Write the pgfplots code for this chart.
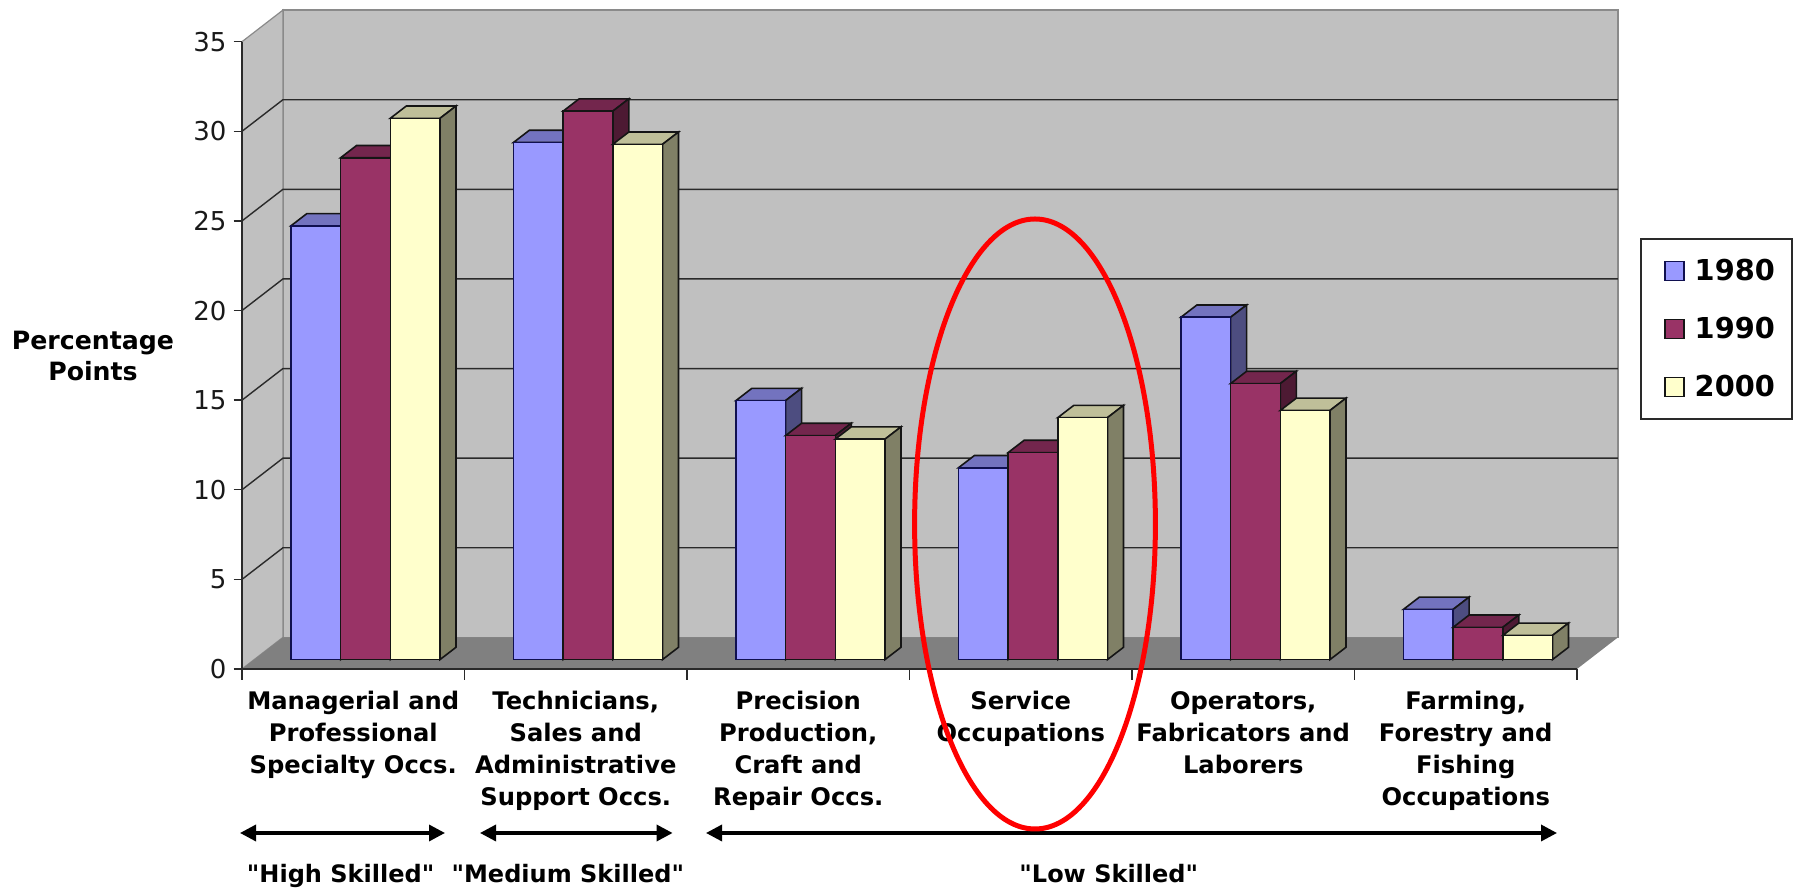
\documentclass[border=0pt]{standalone}
\usepackage{pgfplots}
\usepackage{pgfplotstable}
\pgfplotsset{compat=1.18}
\usepackage{fontspec}
\setmainfont[Ligatures=TeXOff]{DejaVu Sans}
\usetikzlibrary{arrows.meta}

\definecolor{wallgrey}{HTML}{C0C0C0}
\definecolor{floorgrey}{HTML}{808080}
\definecolor{edgegrey}{HTML}{8A8A8A}
\definecolor{gridline}{HTML}{2A2A2A}
\definecolor{blueF}{HTML}{9999FF}
\definecolor{blueT}{HTML}{7373BF}
\definecolor{blueS}{HTML}{4D4D80}
\definecolor{blueE}{HTML}{101050}
\definecolor{redF}{HTML}{993366}
\definecolor{redT}{HTML}{73264D}
\definecolor{redS}{HTML}{4D1A33}
\definecolor{yelF}{HTML}{FFFFCC}
\definecolor{yelT}{HTML}{BFBF99}
\definecolor{yelS}{HTML}{808066}
\definecolor{barE}{HTML}{151515}

% Share of employment by occupation group, percentage points
\pgfplotstableread{
x   y1980 y1990 y2000
0.5 24.2  28.0  30.2
1.5 28.85 30.6  28.75
2.5 14.45 12.5  12.3
3.5 10.7  11.55 13.5
4.5 19.1  15.4  13.9
5.5 2.8   1.8   1.35
}\occupations

\pgfplotsset{swatch/.style={legend image code/.code={
  \path[draw=none,fill=none] (-5.4pt,0pt) -- (12.9pt,0pt);
  \draw[#1,line width=0.7pt] (0pt,-4.75pt) rectangle (9.5pt,4.75pt);}}}

% Top and side faces of one series of 3-D columns
\newcommand{\barfaces}[4]{%
  \pgfplotsinvokeforeach{0,...,5}{%
    \pgfplotstablegetelem{##1}{#1}\of{\occupations}%
    \pgfmathsetmacro\v{\pgfplotsretval}%
    \pgfmathsetmacro\vt{\v+0.686}%
    \pgfmathsetmacro\xa{##1+0.5+(#2-1.5)*0.22337}%
    \pgfmathsetmacro\xb{\xa+0.22337}%
    \pgfmathsetmacro\xc{\xa+0.0719}%
    \pgfmathsetmacro\xd{\xb+0.0719}%
    \addplot[forget plot,fill=#3,draw=barE,line width=0.8pt] coordinates
      {(\xa,\v) (\xb,\v) (\xd,\vt) (\xc,\vt)} -- cycle;
    \addplot[forget plot,fill=#4,draw=barE,line width=0.8pt] coordinates
      {(\xb,0) (\xd,0.686) (\xd,\vt) (\xb,\v)} -- cycle;
  }%
}

\begin{document}
\begin{tikzpicture}
\useasboundingbox (0,0) rectangle (897.5pt,444pt);

% Walls, floor and front axes
\begin{axis}[
  at={(121pt,109.5pt)}, anchor=south west,
  scale only axis, width=667.5pt, height=313.65pt,
  xmin=0, xmax=6, ymin=0, ymax=35, clip=false,
  axis on top,
  axis lines*=left,
  axis line style={-,color=gridline,line width=0.7pt},
  tick style={color=gridline,line width=0.7pt},
  tick align=outside,
  xtick={0,1,2,3,4,5,6}, xticklabels={},
  xtick style={/pgfplots/major tick length=5.5pt},
  ytick={0,5,10,15,20,25,30,35},
  ytick style={/pgfplots/major tick length=4.2pt},
  /pgf/number format/assume math mode=true,
  yticklabel style={font=\fontsize{13}{16}\selectfont,text=black!90},
  extra x ticks={0.5,1.5,2.5,3.5,4.5,5.5},
  extra x tick style={tick style={draw=none},
    xticklabel style={font=\fontsize{12.1}{16}\selectfont\bfseries,align=center,
      anchor=north,inner sep=0pt,yshift=-6.8pt}},
  extra x tick labels={
    {Managerial and\\Professional\\Specialty Occs.},
    {Technicians,\\Sales and\\Administrative\\Support Occs.},
    {Precision\\Production,\\Craft and\\Repair Occs.},
    {Service\\Occupations},
    {Operators,\\Fabricators and\\Laborers},
    {Farming,\\Forestry and\\Fishing\\Occupations}},
]
\addplot[forget plot,fill=wallgrey,draw=edgegrey,line width=0.6pt] coordinates
  {(0.184,1.763) (6.184,1.763) (6.184,36.763) (0.184,36.763)} -- cycle;
\addplot[forget plot,fill=wallgrey,draw=edgegrey,line width=0.6pt] coordinates
  {(0,0) (0.184,1.763) (0.184,36.763) (0,35)} -- cycle;
\addplot[forget plot,fill=floorgrey,draw=none] coordinates
  {(0,0) (0.184,1.763) (6.184,1.763) (6,0)} -- cycle;
\pgfplotsinvokeforeach{5,10,15,20,25,30}{%
  \pgfmathsetmacro\gy{#1+1.763}%
  \addplot[forget plot,draw=gridline,line width=0.7pt] coordinates
    {(0,#1) (0.184,\gy) (6.184,\gy)};
}
\end{axis}

% Columns, set slightly forward of the back wall
\begin{axis}[
  at={(127.1pt,114.2pt)}, anchor=south west,
  scale only axis, width=667.5pt, height=313.65pt,
  xmin=0, xmax=6, ymin=0, ymax=35, clip=false,
  hide axis,
  legend cell align=left,
  legend style={at={(1.0383,0.6714)},anchor=north west,
    draw=gridline,line width=0.8pt,fill=white,
    font=\fontsize{14.4}{16}\selectfont\bfseries,
    inner xsep=6.5pt,inner ysep=7.85pt,row sep=12.8pt},
]
\barfaces{y1980}{0}{blueT}{blueS}
\addplot[ybar,bar width=24.85pt,bar shift=-24.85pt,fill=blueF,draw=blueE,
  line width=0.8pt,swatch] table[x=x,y=y1980] {\occupations};
\addlegendentry{1980}
\barfaces{y1990}{1}{redT}{redS}
\addplot[ybar,bar width=24.85pt,bar shift=0pt,fill=redF,draw=barE,
  line width=0.8pt,swatch] table[x=x,y=y1990] {\occupations};
\addlegendentry{1990}
\barfaces{y2000}{2}{yelT}{yelS}
\addplot[ybar,bar width=24.85pt,bar shift=24.85pt,fill=yelF,draw=barE,
  line width=0.8pt,swatch] table[x=x,y=y2000] {\occupations};
\addlegendentry{2000}
\end{axis}

% Axis title, skill brackets and highlight
\node[font=\fontsize{12.6}{15.5}\selectfont\bfseries,align=center] at (46.5pt,266.2pt)
  {Percentage\\Points};
\draw[{Triangle[length=8pt,width=8pt]}-{Triangle[length=8pt,width=8pt]},line width=1.7pt]
  (120pt,27.5pt) -- (222.5pt,27.5pt);
\draw[{Triangle[length=8pt,width=8pt]}-{Triangle[length=8pt,width=8pt]},line width=1.7pt]
  (240pt,27.5pt) -- (336.3pt,27.5pt);
\draw[{Triangle[length=8pt,width=8pt]}-{Triangle[length=8pt,width=8pt]},line width=1.7pt]
  (353pt,27.5pt) -- (778.5pt,27.5pt);
\begin{scope}[every node/.style={anchor=base,inner sep=0pt},
              font=\fontsize{12}{14}\selectfont\bfseries]
\node at (170.3pt,2.6pt) {"High Skilled"};
\node at (283.9pt,2.6pt) {"Medium Skilled"};
\node at (554.4pt,2.6pt) {"Low Skilled"};
\end{scope}
\draw[red,line width=2.5pt] (517.5pt,182pt) ellipse [x radius=60.2pt,y radius=152.5pt];
\end{tikzpicture}
\end{document}
